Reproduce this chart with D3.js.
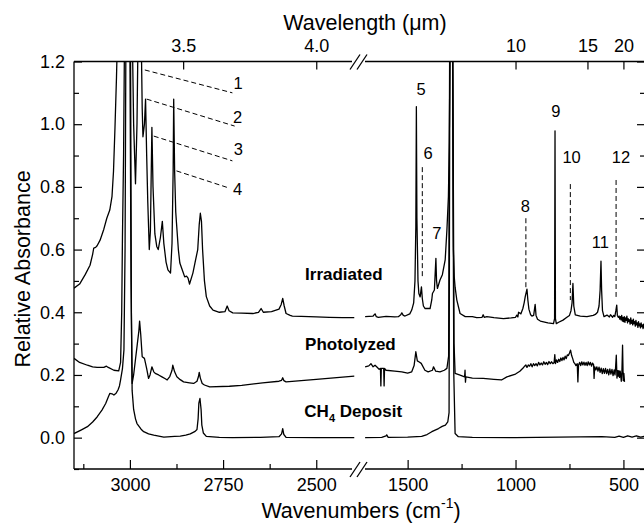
<!DOCTYPE html>
<html>
<head>
<meta charset="utf-8">
<script src="https://cdn.jsdelivr.net/npm/d3@7"></script>
<style>
body{margin:0;background:#fff;}
text{font-family:"Liberation Sans", Arial, sans-serif;fill:#000;}
</style>
</head>
<body>
<script>
// spectra, [wavenumber (cm-1), absorbance]
const irrLeft = [[3150,0.477],[3135,0.49],[3120,0.52],[3107,0.55],[3100,0.585],[3097,0.605],[3092,0.607],[3088,0.612],[3080,0.63],[3070,0.665],[3062,0.70],[3054,0.726],[3048,0.77],[3044,0.85],[3040,0.99],[3036,1.15],[3033,1.3],[3020,1.8],[3005,2.0],[2995,1.4],[2990,1.0],[2985,0.81],[2981,1.0],[2977,1.4],[2971,1.4],[2967,1.05],[2965,0.96],[2961,1.0],[2958,1.08],[2955,0.9],[2952,0.75],[2948,0.60],[2945,0.66],[2941,0.99],[2938,0.80],[2933,0.65],[2928,0.61],[2924,0.60],[2918,0.64],[2913,0.69],[2909,0.62],[2903,0.56],[2898,0.535],[2891,0.525],[2887,0.62],[2884,0.85],[2882.5,1.08],[2880,0.85],[2877,0.72],[2875,0.685],[2870,0.60],[2866,0.557],[2858,0.53],[2853,0.513],[2848,0.515],[2844,0.509],[2840,0.49],[2831,0.525],[2825,0.56],[2818,0.60],[2814,0.68],[2811,0.716],[2808,0.69],[2805,0.60],[2800,0.50],[2795,0.45],[2786,0.42],[2777,0.407],[2760,0.40],[2745,0.402],[2739,0.42],[2734,0.405],[2724,0.398],[2700,0.397],[2670,0.396],[2655,0.40],[2648,0.412],[2642,0.40],[2620,0.402],[2600,0.41],[2594,0.425],[2590,0.444],[2586,0.42],[2581,0.396],[2570,0.39],[2564,0.388],[2540,0.387],[2500,0.385],[2465,0.384],[2430,0.383],[2398,0.383]];
const irrRight = [[1697,0.386],[1660,0.388],[1651,0.395],[1645,0.386],[1636,0.384],[1600,0.387],[1560,0.385],[1543,0.386],[1532,0.392],[1527,0.398],[1520,0.39],[1512,0.388],[1490,0.395],[1481,0.407],[1472,0.43],[1466,0.50],[1462,0.673],[1459.5,1.056],[1457,0.70],[1452,0.50],[1448,0.46],[1442,0.449],[1436,0.481],[1432,0.444],[1427,0.42],[1419,0.412],[1396,0.412],[1388,0.44],[1385,0.46],[1376,0.471],[1369,0.572],[1366,0.50],[1362,0.476],[1350,0.503],[1339,0.52],[1326,0.567],[1318,0.662],[1311,0.769],[1307,0.94],[1303,1.3],[1298,2.0],[1292,1.3],[1288,0.6],[1284,0.513],[1280,0.48],[1272,0.439],[1257,0.396],[1233,0.386],[1200,0.386],[1180,0.383],[1155,0.384],[1150,0.392],[1145,0.384],[1133,0.386],[1100,0.383],[1056,0.380],[1020,0.382],[1000,0.384],[994,0.391],[989,0.385],[986,0.40],[975,0.395],[966,0.412],[960,0.43],[955,0.45],[947,0.474],[943,0.44],[938,0.41],[930,0.392],[924,0.388],[916,0.39],[912,0.41],[909,0.425],[905,0.39],[898,0.378],[885,0.372],[850,0.366],[824,0.364],[819,0.38],[817,0.979],[815,0.38],[811,0.364],[800,0.368],[780,0.375],[762,0.384],[750,0.39],[743,0.405],[738,0.43],[734,0.492],[730,0.42],[723,0.392],[700,0.388],[669,0.386],[640,0.39],[630,0.393],[620,0.40],[613,0.42],[608,0.47],[604,0.563],[601,0.47],[597,0.405],[590,0.386],[576,0.391],[565,0.385],[560,0.392],[550,0.384],[545,0.39],[540,0.386],[535,0.405],[531,0.423],[528,0.39],[524,0.384],[520,0.388],[517,0.378],[514,0.386],[511,0.376],[508,0.39],[505,0.372],[502,0.384],[499,0.37],[496,0.386],[493,0.368],[490,0.382],[487,0.374],[484,0.388],[481,0.366],[478,0.38],[475,0.371],[472,0.376],[469,0.362],[466,0.382],[463,0.365],[460,0.374],[457,0.36],[454,0.378],[451,0.364],[448,0.37],[445,0.356],[442,0.374],[439,0.36],[436,0.366],[433,0.352],[430,0.37],[427,0.357],[424,0.363],[421,0.35],[418,0.366],[415,0.354],[412,0.36],[409,0.348],[406,0.362],[403,0.352],[400,0.356]];
const photLeft = [[3150,0.253],[3135,0.24],[3114,0.231],[3100,0.226],[3088,0.224],[3070,0.224],[3063,0.228],[3058,0.224],[3043,0.215],[3030,0.213],[3025,0.24],[3022,0.40],[3020,0.64],[3017,0.9],[3013,1.5],[3007,2.0],[3001,1.5],[2997,0.5],[2994,0.173],[2990,0.2],[2985,0.25],[2980,0.30],[2976,0.34],[2974,0.372],[2971,0.33],[2967,0.258],[2961,0.253],[2955,0.22],[2950,0.189],[2946,0.2],[2941,0.226],[2936,0.21],[2932,0.205],[2923,0.20],[2914,0.194],[2905,0.188],[2900,0.184],[2893,0.195],[2887,0.215],[2885,0.231],[2880,0.21],[2874,0.194],[2865,0.185],[2856,0.178],[2840,0.175],[2829,0.173],[2820,0.18],[2816,0.195],[2814,0.208],[2811,0.19],[2806,0.173],[2800,0.168],[2786,0.162],[2733,0.164],[2700,0.167],[2644,0.175],[2600,0.18],[2593,0.183],[2590,0.191],[2587,0.182],[2581,0.178],[2500,0.186],[2398,0.196]];
const photRight = [[1697,0.226],[1680,0.229],[1670,0.236],[1660,0.226],[1651,0.231],[1640,0.224],[1632,0.218],[1626,0.221],[1624,0.165],[1622,0.221],[1611,0.221],[1609,0.165],[1607,0.221],[1600,0.215],[1560,0.212],[1527,0.21],[1500,0.206],[1481,0.21],[1470,0.23],[1462,0.274],[1455,0.245],[1448,0.242],[1437,0.237],[1420,0.215],[1405,0.21],[1385,0.215],[1380,0.226],[1370,0.212],[1350,0.21],[1330,0.215],[1318,0.221],[1310,0.26],[1305,1.3],[1298,2.0],[1291,1.3],[1285,0.3],[1280,0.205],[1260,0.2],[1236,0.194],[1234,0.215],[1232,0.177],[1230,0.194],[1200,0.19],[1150,0.189],[1100,0.186],[1065,0.184],[1040,0.194],[1000,0.203],[980,0.212],[965,0.222],[958,0.228],[952,0.232],[947,0.224],[941,0.232],[935,0.228],[929,0.236],[923,0.226],[917,0.236],[911,0.23],[905,0.236],[899,0.229],[893,0.24],[887,0.232],[881,0.238],[875,0.232],[869,0.242],[863,0.234],[857,0.24],[851,0.233],[845,0.243],[839,0.236],[833,0.242],[827,0.236],[821,0.24],[818,0.265],[815,0.236],[810,0.248],[805,0.24],[800,0.25],[795,0.243],[790,0.254],[785,0.246],[780,0.256],[775,0.248],[770,0.26],[765,0.252],[760,0.264],[755,0.262],[750,0.27],[745,0.279],[740,0.262],[735,0.252],[730,0.24],[725,0.236],[720,0.23],[714,0.236],[711,0.178],[708,0.232],[703,0.24],[698,0.23],[693,0.242],[688,0.232],[683,0.241],[678,0.231],[673,0.24],[668,0.23],[663,0.242],[658,0.232],[653,0.24],[648,0.228],[643,0.238],[638,0.232],[636,0.189],[633,0.226],[628,0.216],[623,0.226],[618,0.212],[613,0.225],[608,0.208],[603,0.222],[598,0.204],[593,0.22],[588,0.205],[583,0.221],[578,0.204],[573,0.218],[568,0.2],[563,0.219],[558,0.203],[553,0.218],[548,0.198],[543,0.216],[539,0.2],[537,0.216],[533,0.263],[530,0.19],[527,0.214],[524,0.196],[521,0.214],[518,0.192],[515,0.212],[512,0.195],[510,0.18],[507,0.21],[504,0.295],[501,0.182],[498,0.205],[495,0.178]];
const depLeft = [[3150,0.013],[3130,0.025],[3114,0.035],[3100,0.05],[3088,0.066],[3075,0.088],[3065,0.109],[3058,0.13],[3054,0.141],[3048,0.14],[3043,0.136],[3037,0.142],[3032,0.152],[3028,0.165],[3025,0.184],[3020,0.22],[3016,0.28],[3013,0.6],[3010,1.5],[3004,2.0],[2999,1.5],[2996,0.4],[2994,0.15],[2990,0.09],[2985,0.06],[2981,0.045],[2970,0.027],[2963,0.019],[2950,0.012],[2936,0.008],[2909,0.002],[2880,0.004],[2865,0.005],[2850,0.008],[2838,0.012],[2825,0.02],[2820,0.026],[2817,0.06],[2815,0.11],[2812,0.125],[2809,0.09],[2807,0.04],[2803,0.015],[2795,0.004],[2760,0.001],[2725,0.0],[2650,0.001],[2600,0.003],[2593,0.012],[2590,0.029],[2587,0.01],[2581,0.001],[2500,0.0],[2398,0.0]];
const depRight = [[1697,0.0],[1620,0.001],[1600,0.006],[1597,0.009],[1590,0.001],[1500,0.002],[1435,0.004],[1410,0.01],[1388,0.019],[1357,0.029],[1340,0.036],[1325,0.04],[1314,0.05],[1308,0.08],[1304,1.3],[1298,2.0],[1292,1.3],[1286,0.2],[1280,0.013],[1265,0.003],[1200,0.001],[1000,0.0],[800,0.002],[600,0.003],[540,0.001],[520,0.005],[500,0.001],[480,0.006],[460,0.002],[440,0.006],[420,0.002],[400,0.005]];

// axes
const wnMajorLeft = [3000, 2750, 2500];
const wnMinorLeft = [3125, 2875, 2625];
const wnMajorRight = [1500, 1000, 500];
const wnMinorRight = [1250, 750];
const umLeft = [3.5, 4.0];
const umRight = [10, 15, 20];
const absMajor = [0, 0.2, 0.4, 0.6, 0.8, 1.0, 1.2];
const absMinor = [-0.1, 0.1, 0.3, 0.5, 0.7, 0.9, 1.1];

// annotations (data units)
const peakLabels = [
  {t:"1", seg:"L", wn:2710, a:1.112}, {t:"2", seg:"L", wn:2711, a:1.004},
  {t:"3", seg:"L", wn:2709, a:0.902}, {t:"4", seg:"L", wn:2711, a:0.774},
  {t:"5", seg:"R", wn:1438, a:1.093}, {t:"6", seg:"R", wn:1405, a:0.888},
  {t:"7", seg:"R", wn:1365, a:0.633}, {t:"8", seg:"R", wn:955, a:0.721},
  {t:"9", seg:"R", wn:813, a:1.024}, {t:"10", seg:"R", wn:740, a:0.875},
  {t:"11", seg:"R", wn:607, a:0.604}, {t:"12", seg:"R", wn:511, a:0.875}
];
const leaders = [
  {seg:"L", p:[[2960,1.173],[2725,1.100]]}, {seg:"L", p:[[2955,1.080],[2719,0.994]]},
  {seg:"L", p:[[2936,0.962],[2725,0.883]]}, {seg:"L", p:[[2875,0.851],[2733,0.796]]},
  {seg:"R", p:[[1432,0.863],[1432,0.512]]}, {seg:"R", p:[[952,0.70],[952,0.48]]},
  {seg:"R", p:[[746,0.809],[746,0.439]]}, {seg:"R", p:[[534,0.822],[534,0.449]]}
];
const seriesNames = [
  {name:"Irradiated", wn:2530, a:0.503},
  {name:"Photolyzed", wn:2530, a:0.279},
  {name:"CH", sub:"4", rest:" Deposit", wn:2532, a:0.066}
];

const W = 644, H = 524;
const pL = 74, pR = 645, pT = 61.5, pB = 469, brk = 358;

const xL = d3.scaleLinear().domain([3150, 2388]).range([pL, brk]);
const xR = d3.scaleLinear().domain([1730, 400]).range([brk, pR]);
const y = d3.scaleLinear().domain([-0.1, 1.2]).range([pB, pT]);
const xs = {L: xL, R: xR};

const svg = d3.select("body").append("svg")
  .attr("width", W).attr("height", H);
svg.append("rect").attr("width", W).attr("height", H).attr("fill", "#fff");

svg.append("clipPath").attr("id", "plotclip").append("rect")
  .attr("x", pL).attr("y", pT).attr("width", pR - pL).attr("height", pB - pT);

const specs = svg.append("g").attr("clip-path", "url(#plotclip)");
const lineL = d3.line().x(d => xL(d[0])).y(d => y(d[1]));
const lineR = d3.line().x(d => xR(d[0])).y(d => y(d[1]));
[irrLeft, photLeft, depLeft].forEach(s => {
  specs.append("path").attr("d", lineL(s)).attr("fill", "none")
    .attr("stroke", "#000").attr("stroke-width", 1.3).attr("stroke-linejoin", "round");
});
[irrRight, photRight, depRight].forEach(s => {
  specs.append("path").attr("d", lineR(s)).attr("fill", "none")
    .attr("stroke", "#000").attr("stroke-width", 1.3).attr("stroke-linejoin", "round");
});

// ticks
function styleAxis(g){
  g.select(".domain").remove();
  g.selectAll("line").attr("stroke", "#000").attr("stroke-width", 1.2);
  g.selectAll("text").attr("font-size", 18).attr("font-family", "Liberation Sans, Arial, sans-serif");
}
const fmtWn = d3.format("d");
[[xL, wnMajorLeft, wnMinorLeft], [xR, wnMajorRight, wnMinorRight]].forEach(([sc, maj, min]) => {
  svg.append("g").attr("transform", `translate(0,${pB})`)
    .call(d3.axisBottom(sc).tickValues(maj).tickSize(-9).tickPadding(9).tickFormat(fmtWn)).call(styleAxis);
  svg.append("g").attr("transform", `translate(0,${pB})`)
    .call(d3.axisBottom(sc).tickValues(min).tickSize(-5).tickFormat("")).call(styleAxis);
});
svg.append("g").attr("transform", `translate(0,${pT})`)
  .call(d3.axisTop(xL).tickValues(umLeft.map(l => 1e4 / l)).tickSize(-8).tickPadding(9.5)
    .tickFormat(d => d3.format(".1f")(1e4 / d))).call(styleAxis);
svg.append("g").attr("transform", `translate(0,${pT})`)
  .call(d3.axisTop(xR).tickValues(umRight.map(l => 1e4 / l)).tickSize(-8).tickPadding(9.5)
    .tickFormat(d => d3.format("d")(Math.round(1e4 / d)))).call(styleAxis);
svg.append("g").attr("transform", `translate(${pL},0)`)
  .call(d3.axisLeft(y).tickValues(absMajor).tickSize(-8).tickPadding(9).tickFormat(d3.format(".1f"))).call(styleAxis);
svg.append("g").attr("transform", `translate(${pL},0)`)
  .call(d3.axisLeft(y).tickValues(absMinor).tickSize(-5).tickFormat("")).call(styleAxis);
svg.append("g").attr("transform", `translate(${pR},0)`)
  .call(d3.axisRight(y).tickValues(absMajor).tickSize(-8).tickFormat("")).call(styleAxis);
svg.append("g").attr("transform", `translate(${pR},0)`)
  .call(d3.axisRight(y).tickValues(absMinor).tickSize(-5).tickFormat("")).call(styleAxis);

// frame with axis break
const frame = svg.append("g").attr("stroke", "#000").attr("stroke-width", 1.3).attr("fill", "none");
[pT, pB].forEach(yy => {
  frame.append("line").attr("x1", pL).attr("x2", brk - 6).attr("y1", yy).attr("y2", yy);
  frame.append("line").attr("x1", brk + 7).attr("x2", pR).attr("y1", yy).attr("y2", yy);
  [-8, -1].forEach(dx => {
    frame.append("line").attr("x1", brk + dx).attr("y1", yy + 8)
      .attr("x2", brk + dx + 10).attr("y2", yy - 7);
  });
});
frame.append("line").attr("x1", pL).attr("x2", pL).attr("y1", pT).attr("y2", pB);
frame.append("line").attr("x1", pR).attr("x2", pR).attr("y1", pT).attr("y2", pB);

// annotations
const ann = svg.append("g");
leaders.forEach(l => {
  const sc = xs[l.seg];
  ann.append("line")
    .attr("x1", sc(l.p[0][0])).attr("y1", y(l.p[0][1]))
    .attr("x2", sc(l.p[1][0])).attr("y2", y(l.p[1][1]))
    .attr("stroke", "#000").attr("stroke-width", 1).attr("stroke-dasharray", "5,3");
});
ann.selectAll("text.pk").data(peakLabels).enter().append("text")
  .attr("class", "pk")
  .attr("x", d => xs[d.seg](d.wn)).attr("y", d => y(d.a))
  .attr("text-anchor", "middle").attr("font-size", 16.5)
  .text(d => d.t);

seriesNames.forEach(s => {
  const t = ann.append("text").attr("x", xL(s.wn)).attr("y", y(s.a))
    .attr("font-size", 17).attr("font-weight", "bold");
  t.append("tspan").text(s.name);
  if (s.sub) {
    t.append("tspan").attr("font-size", 11).attr("dy", 5).text(s.sub);
    t.append("tspan").attr("dy", -5).text(s.rest);
  }
});

// titles
svg.append("text").attr("x", 365).attr("y", 30).attr("text-anchor", "middle")
  .attr("font-size", 21.5).text("Wavelength (\u03bcm)");
const xt = svg.append("text").attr("x", 361).attr("y", 518).attr("text-anchor", "middle")
  .attr("font-size", 21.5);
xt.append("tspan").text("Wavenumbers (cm");
xt.append("tspan").attr("font-size", 14).attr("dy", -10).text("-1");
xt.append("tspan").attr("dy", 10).text(")");
svg.append("text").attr("transform", "translate(30,269) rotate(-90)")
  .attr("text-anchor", "middle").attr("font-size", 21.5).text("Relative Absorbance");
</script>
</body>
</html>
